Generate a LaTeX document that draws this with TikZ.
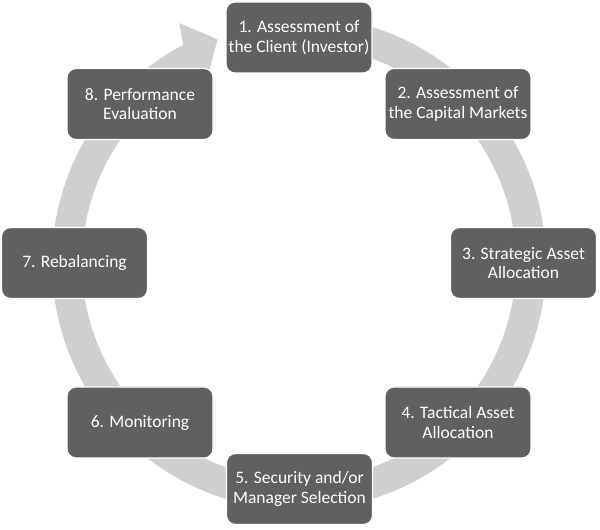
\documentclass[tikz,border=0pt]{standalone}
\usepackage{fontspec}
\setmainfont{Carlito}
\definecolor{boxgray}{HTML}{606060}
\definecolor{ringgray}{HTML}{CFCFCF}
\begin{document}
\begin{tikzpicture}[x=1pt,y=1pt,
  stepbox/.style={fill=boxgray, draw=white, line width=1.2pt, rounded corners=9pt,
    minimum width=146pt, minimum height=71pt, inner sep=0pt, text=white,
    align=center, font=\fontsize{17.5}{19.5}\selectfont}]
\useasboundingbox (0,0) rectangle (600,530);
% ring with arrowhead
\begin{scope}[shift={(299,267)}]
\fill[ringgray] (90:247) arc[start angle=90, end angle=-242, radius=247]
  -- (-243.5:268) -- (-250:238) -- (-242.5:202) -- (-242:217)
  arc[start angle=-242, end angle=90, radius=217] -- cycle;
\end{scope}
\node[stepbox] (n1) at (299,492.5) {1. Assessment of\\the Client (Investor)};
\node[stepbox] (n2) at (458,426) {2. Assessment of\\the Capital Markets};
\node[stepbox] (n3) at (523.5,267) {3. Strategic Asset\\Allocation};
\node[stepbox] (n4) at (458,107.5) {4. Tactical Asset\\Allocation};
\node[stepbox] (n5) at (299.5,41) {5. Security and/or\\Manager Selection};
\node[stepbox] (n6) at (140,107.5) {6. Monitoring};
\node[stepbox] (n7) at (74.5,267) {7. Rebalancing};
\node[stepbox] (n8) at (140,426) {8. Performance\\Evaluation};
\end{tikzpicture}
\end{document}
